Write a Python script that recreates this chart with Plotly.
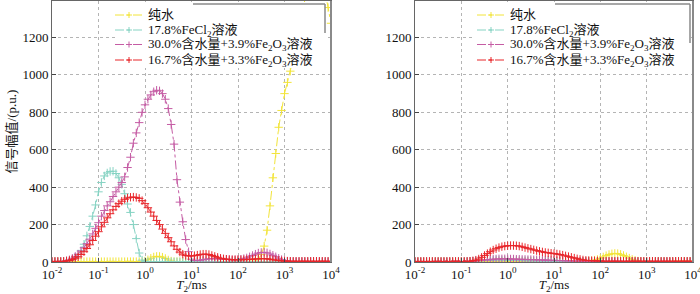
import plotly.graph_objects as go

# T2 grid (ms), 16 points per decade from 0.01 to 10000
t2_ms = [
    0.01, 0.01155, 0.01334, 0.0154, 0.01778, 0.02054, 0.02371, 0.02738, 0.03162, 0.03652, 0.04217, 0.0487, 0.05623, 0.06494, 0.07499, 0.0866,
    0.1, 0.1155, 0.1334, 0.154, 0.1778, 0.2054, 0.2371, 0.2738, 0.3162, 0.3652, 0.4217, 0.487, 0.5623, 0.6494, 0.7499, 0.866,
    1, 1.155, 1.334, 1.54, 1.778, 2.054, 2.371, 2.738, 3.162, 3.652, 4.217, 4.87, 5.623, 6.494, 7.499, 8.66,
    10, 11.55, 13.34, 15.4, 17.78, 20.54, 23.71, 27.38, 31.62, 36.52, 42.17, 48.7, 56.23, 64.94, 74.99, 86.6,
    100, 115.5, 133.4, 154, 177.8, 205.4, 237.1, 273.8, 316.2, 365.2, 421.7, 487, 562.3, 649.4, 749.9, 866,
    1000, 1155, 1334, 1540, 1778, 2054, 2371, 2738, 3162, 3652, 4217, 4870, 5623, 6494, 7499, 8660,
    10000,
]

series_names = [
    "纯水",
    "17.8%FeCl<sub>2</sub>溶液",
    "30.0%含水量+3.9%Fe<sub>2</sub>O<sub>3</sub>溶液",
    "16.7%含水量+3.3%Fe<sub>2</sub>O<sub>3</sub>溶液",
]

# ---- left panel ----
left_water = [
    2, 2, 2, 2, 2, 2, 2, 2, 2, 2, 2, 2, 2, 2, 2, 2,
    2, 2, 2, 2, 2, 2, 2, 2, 2, 2, 2, 2, 2, 2, 2, 2,
    5, 12, 20, 27, 30, 30, 26, 19, 11, 5, 2, 2, 2, 2, 2, 2,
    2, 2, 2, 2, 2, 2, 2, 2, 2, 2, 2, 2, 2, 2, 2, 2,
    2, 2, 2, 2, 2, 2, 4, 15, 40, 85, 170, 300, 450, 580, 720, 810,
    900, 960, 1020, 1080, 1150, 1240, 1330, 1420, 1500, 1560, 1600, 1610, 1580, 1520, 1440, 1360,
    1276,
]
left_fecl2 = [
    2, 2, 2, 2, 3, 5, 8, 14, 25, 40, 62, 95, 140, 190, 245, 305,
    375, 425, 460, 476, 484, 485, 473, 450, 415, 365, 310, 265, 200, 125, 48, 10,
    2, 1, 1, 1, 1, 1, 1, 1, 1, 1, 1, 1, 1, 1, 1, 1,
    1, 1, 1, 1, 1, 1, 1, 1, 1, 1, 1, 1, 1, 1, 1, 1,
    1, 1, 1, 1, 1, 1, 1, 1, 1, 1, 1, 1, 1, 1, 1, 1,
    1, 1, 1, 1, 1, 1, 1, 1, 1, 1, 1, 1, 1, 1, 1, 1,
    1,
]
left_w30 = [
    2, 2, 2, 2, 4, 7, 12, 20, 30, 42, 58, 76, 98, 122, 150, 180,
    210, 245, 275, 300, 322, 350, 375, 400, 425, 455, 505, 560, 635, 690, 745, 800,
    840, 870, 893, 910, 918, 915, 900, 870, 820, 735, 630, 440, 320, 215, 120, 55,
    15, 8, 8, 10, 13, 15, 17, 18, 18, 17, 16, 15, 14, 13, 12, 12,
    13, 15, 18, 22, 28, 35, 42, 48, 51, 52, 49, 43, 36, 28, 20, 13,
    8, 5, 3, 2, 2, 2, 2, 2, 2, 2, 2, 2, 2, 2, 2, 2,
    2,
]
left_w167 = [
    3, 3, 3, 3, 3, 5, 8, 13, 20, 28, 40, 55, 72, 92, 115, 138,
    162, 188, 212, 236, 258, 279, 297, 312, 325, 335, 342, 346, 347, 345, 340, 328,
    312, 290, 267, 245, 222, 200, 176, 153, 130, 108, 86, 68, 53, 42, 35, 32,
    32, 34, 37, 40, 42, 42, 40, 35, 30, 25, 20, 17, 15, 13, 12, 12,
    12, 12, 12, 13, 14, 15, 16, 17, 18, 18, 17, 15, 12, 10, 8, 6,
    5, 4, 4, 4, 4, 4, 4, 4, 4, 4, 4, 4, 4, 4, 4, 4,
    4,
]

# ---- right panel ----
right_water = [
    2, 2, 2, 2, 2, 2, 2, 2, 2, 2, 2, 2, 2, 2, 2, 2,
    2, 2, 2, 2, 2, 2, 2, 2, 2, 2, 3, 3, 4, 4, 5, 5,
    5, 5, 5, 4, 4, 3, 3, 3, 3, 2, 2, 2, 2, 2, 2, 2,
    2, 2, 2, 2, 2, 2, 2, 2, 2, 2, 2, 3, 5, 7, 10, 14,
    20, 27, 34, 40, 44, 46, 45, 41, 35, 28, 21, 14, 9, 5, 3, 2,
    2, 2, 2, 2, 2, 2, 2, 2, 2, 2, 4, 4, 4, 4, 4, 4,
    4,
]
right_fecl2 = [
    2, 2, 2, 2, 2, 2, 2, 2, 2, 2, 2, 2, 2, 2, 2, 2,
    2, 2, 3, 3, 4, 5, 6, 7, 8, 9, 10, 10, 11, 11, 11, 11,
    10, 10, 9, 9, 8, 8, 7, 7, 6, 6, 5, 5, 5, 4, 4, 4,
    3, 3, 3, 2, 2, 2, 2, 2, 2, 2, 2, 2, 2, 2, 2, 2,
    2, 2, 2, 2, 2, 2, 2, 2, 2, 2, 2, 2, 2, 2, 2, 2,
    2, 2, 2, 2, 2, 2, 2, 2, 2, 2, 2, 2, 2, 2, 2, 2,
    2,
]
right_w30 = [
    2, 2, 2, 2, 2, 2, 2, 2, 2, 2, 2, 2, 2, 2, 2, 2,
    2, 2, 3, 4, 5, 6, 8, 9, 11, 12, 14, 15, 16, 17, 17, 17,
    17, 16, 16, 15, 15, 14, 14, 13, 13, 12, 12, 11, 11, 10, 10, 9,
    9, 8, 8, 7, 7, 6, 6, 5, 5, 4, 4, 3, 3, 2, 2, 2,
    2, 2, 2, 2, 2, 2, 2, 2, 2, 2, 2, 2, 2, 2, 2, 2,
    2, 2, 2, 2, 2, 2, 2, 2, 2, 2, 2, 2, 2, 2, 2, 2,
    2,
]
right_w167 = [
    3, 3, 3, 3, 3, 3, 3, 3, 3, 3, 3, 3, 3, 3, 3, 3,
    3, 3, 3, 4, 6, 10, 16, 25, 35, 45, 55, 64, 71, 77, 82, 85,
    87, 88, 88, 87, 85, 81, 77, 73, 69, 65, 61, 57, 54, 51, 49, 47,
    45, 43, 40, 37, 33, 29, 25, 21, 17, 14, 11, 9, 8, 7, 6, 6,
    5, 4, 4, 4, 4, 4, 4, 4, 4, 4, 4, 4, 4, 4, 4, 4,
    4, 4, 4, 4, 4, 4, 4, 4, 4, 4, 4, 4, 4, 4, 4, 4,
    4,
]

x_tick_vals = [0.01, 0.1, 1, 10, 100, 1000, 10000]
x_tick_text = ["10<sup>-2</sup>", "10<sup>-1</sup>", "10<sup>0</sup>", "10<sup>1</sup>",
               "10<sup>2</sup>", "10<sup>3</sup>", "10<sup>4</sup>"]
y_tick_vals = [0, 200, 400, 600, 800, 1000, 1200]

colors = ["#f2e43a", "#86d3c3", "#c55ca4", "#e8262b"]

FONT = "Liberation Serif, Noto Sans CJK SC, serif"

fig = go.Figure()

left = [left_water, left_fecl2, left_w30, left_w167]
right = [right_water, right_fecl2, right_w30, right_w167]

for i, ys in enumerate(left):
    fig.add_trace(go.Scatter(
        x=t2_ms, y=ys, name=series_names[i], mode="lines+markers", showlegend=False,
        line=dict(color=colors[i], width=1, dash="dashdot"),
        marker=dict(symbol="cross-thin", size=6, line=dict(color=colors[i], width=1)),
        xaxis="x", yaxis="y", cliponaxis=True,
    ))
for i, ys in enumerate(right):
    fig.add_trace(go.Scatter(
        x=t2_ms, y=ys, name=series_names[i], mode="lines+markers", showlegend=False,
        line=dict(color=colors[i], width=1, dash="dashdot"),
        marker=dict(symbol="cross-thin", size=6, line=dict(color=colors[i], width=1)),
        xaxis="x2", yaxis="y2", cliponaxis=True,
    ))

W, H = 700, 294
def px(x):
    return x / W
def py(y):
    return 1 - y / H

xcommon = dict(
    type="log", range=[-2, 4], tickvals=x_tick_vals, ticktext=x_tick_text,
    showgrid=True, gridcolor="#b4b4b4", griddash="dot", gridwidth=1,
    showline=True, linecolor="#666666", linewidth=1, mirror=True,
    ticks="inside", ticklen=4, tickcolor="#444",
    tickfont=dict(family=FONT, size=13, color="#111"),
    title=dict(text="<i>T</i><sub>2</sub>/ms", font=dict(family=FONT, size=13, color="#111"), standoff=0),
    zeroline=False, automargin=False, ticklabeloverflow="allow",
)
ycommon = dict(
    range=[0, 1395], tickvals=y_tick_vals,
    showgrid=True, gridcolor="#b4b4b4", griddash="dot", gridwidth=1,
    showline=True, linecolor="#666666", linewidth=1, mirror=True,
    ticks="inside", ticklen=4, tickcolor="#444",
    tickfont=dict(family=FONT, size=13, color="#111"),
    zeroline=False, automargin=False,
)

# manual legend (box, symbols, labels) for each panel
shapes = [
    dict(type="line", xref="paper", yref="paper", x0=px(331), x1=px(331), y0=py(1), y1=py(262),
         line=dict(color="#8a8a8a", width=2)),
    dict(type="line", xref="paper", yref="paper", x0=px(693), x1=px(693), y0=py(1), y1=py(262),
         line=dict(color="#8a8a8a", width=2)),
]
annotations = []
legend_boxes = [
    # (box_x0, box_x1, border_top_x0, border_right_y1, sym_x0, sym_x1, text_x)
    (115, 325, 193, 33, 115, 143, 146),
    (472, 690, 555, 43, 477, 505, 508),
]
row_y = [15, 30, 44.5, 60]
for (bx0, bx1, btx0, bry1, sx0, sx1, tx) in legend_boxes:
    shapes.append(dict(type="rect", xref="paper", yref="paper", layer="above",
                       x0=px(bx0), x1=px(bx1), y0=py(2), y1=py(68),
                       fillcolor="white", line=dict(width=0)))
    shapes.append(dict(type="line", xref="paper", yref="paper", layer="above",
                       x0=px(btx0), x1=px(bx1), y0=py(4), y1=py(4),
                       line=dict(color="#8a8a8a", width=1.5)))
    shapes.append(dict(type="line", xref="paper", yref="paper", layer="above",
                       x0=px(bx1), x1=px(bx1), y0=py(4), y1=py(bry1),
                       line=dict(color="#8a8a8a", width=1.5)))
    cx = (sx0 + sx1) / 2
    for i, ry in enumerate(row_y):
        shapes.append(dict(type="line", xref="paper", yref="paper", layer="above",
                           x0=px(sx0), x1=px(sx1), y0=py(ry), y1=py(ry),
                           line=dict(color=colors[i], width=1, dash="dashdot")))
        shapes.append(dict(type="line", xref="paper", yref="paper", layer="above",
                           x0=px(cx - 3), x1=px(cx + 3), y0=py(ry), y1=py(ry),
                           line=dict(color=colors[i], width=1)))
        shapes.append(dict(type="line", xref="paper", yref="paper", layer="above",
                           x0=px(cx), x1=px(cx), y0=py(ry - 3), y1=py(ry + 3),
                           line=dict(color=colors[i], width=1)))
        annotations.append(dict(xref="paper", yref="paper", x=px(tx), y=py(ry),
                                xanchor="left", yanchor="middle", showarrow=False,
                                text=series_names[i],
                                font=dict(family=FONT, size=13, color="#111")))

fig.update_layout(
    width=W, height=H,
    margin=dict(l=0, r=0, t=0, b=0),
    paper_bgcolor="white", plot_bgcolor="white",
    font=dict(family=FONT, size=13, color="#111"),
    showlegend=False,
    xaxis=dict(domain=[px(52), px(331)], anchor="y", **xcommon),
    yaxis=dict(domain=[py(262), py(1)], anchor="x",
               title=dict(text="信号幅值/(p.u.)", font=dict(family=FONT, size=13, color="#111"), standoff=2),
               **ycommon),
    xaxis2=dict(domain=[px(415), px(693)], anchor="y2", **xcommon),
    yaxis2=dict(domain=[py(262), py(1)], anchor="x2", **ycommon),
    shapes=shapes,
    annotations=annotations,
)

fig.write_html("out.html", config={"displayModeBar": False},
               post_script="document.body.style.margin='0px';")
